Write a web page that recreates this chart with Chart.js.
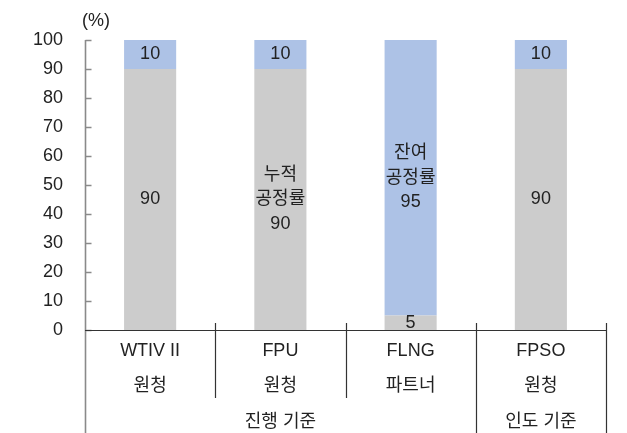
<!DOCTYPE html>
<html>
<head>
<meta charset="utf-8">
<script src="https://cdn.jsdelivr.net/npm/chart.js@4.4.1/dist/chart.umd.min.js"></script>
<style>
  html, body { margin: 0; padding: 0; background: #fff; }
</style>
</head>
<body>
<canvas id="chart" width="627" height="433"></canvas>
<script>
// data
const categories = ['WTIV II', 'FPU', 'FLNG', 'FPSO'];
const roles = ['원청', '원청', '파트너', '원청'];
const groupLabels = ['진행 기준', '인도 기준'];
const groupStarts = [0, 3];
const doneValues = [90, 90, 5, 90];
const remainValues = [10, 10, 95, 10];
const doneCaptions = ['', '누적 공정률', '', ''];
const remainCaptions = ['', '', '잔여 공정률', ''];
const yTicks = [0, 10, 20, 30, 40, 50, 60, 70, 80, 90, 100];

const FONT = '18px "Liberation Sans", "Noto Sans CJK KR", sans-serif';
const TEXT = '#222222';
const AXIS_GRAY = '#8a8a8a';
const LINE_DARK = '#333333';

const overlay = {
  id: 'overlay',
  afterDraw(chart) {
    const { ctx, chartArea: ca, scales: { x, y } } = chart;
    const H = chart.height;
    const half = (x.getPixelForValue(1) - x.getPixelForValue(0)) / 2;
    ctx.save();
    ctx.font = FONT;
    ctx.fillStyle = TEXT;
    ctx.textAlign = 'center';
    ctx.textBaseline = 'middle';

    // bar labels
    const captions = [doneCaptions, remainCaptions];
    chart.data.datasets.forEach((ds, di) => {
      chart.getDatasetMeta(di).data.forEach((el, i) => {
        const lines = captions[di][i] ? captions[di][i].split(' ') : [];
        lines.push(String(ds.data[i]));
        const cy = (el.y + el.base) / 2;
        lines.forEach((t, k) => {
          ctx.fillText(t, el.x, cy + (k - (lines.length - 1) / 2) * 24.5);
        });
      });
    });

    // unit
    ctx.fillText('(%)', ca.left + 11, 21);

    // y axis line + inward ticks
    const ax = Math.round(ca.left) + 0.5;
    ctx.strokeStyle = AXIS_GRAY;
    ctx.lineWidth = 1.6;
    ctx.beginPath();
    ctx.moveTo(ax, ca.top);
    ctx.lineTo(ax, H);
    yTicks.forEach(v => {
      const py = Math.round(y.getPixelForValue(v)) + 0.5;
      ctx.moveTo(ax, py);
      ctx.lineTo(ax + 6, py);
    });
    ctx.stroke();

    // x axis line
    const by = Math.round(ca.bottom) + 0.5;
    ctx.strokeStyle = LINE_DARK;
    ctx.lineWidth = 1.2;
    ctx.beginPath();
    ctx.moveTo(ca.left, by);
    ctx.lineTo(ca.right, by);
    // separators
    for (let i = 1; i <= categories.length; i++) {
      const px = Math.round(x.getPixelForValue(i - 1) + half) + 0.5;
      const full = i === categories.length || groupStarts.includes(i);
      ctx.moveTo(px, ca.bottom - 7);
      ctx.lineTo(px, full ? H : ca.bottom + 68);
    }
    ctx.stroke();

    // category labels
    categories.forEach((c, i) => {
      const px = x.getPixelForValue(i);
      ctx.fillText(c, px, ca.bottom + 21);
      ctx.fillText(roles[i], px, ca.bottom + 56);
    });
    // group labels
    groupLabels.forEach((g, gi) => {
      const from = groupStarts[gi];
      const to = gi + 1 < groupStarts.length ? groupStarts[gi + 1] - 1 : categories.length - 1;
      const cx = (x.getPixelForValue(from) + x.getPixelForValue(to)) / 2;
      ctx.fillText(g, cx, ca.bottom + 92);
    });
    ctx.restore();
  }
};

new Chart(document.getElementById('chart'), {
  type: 'bar',
  data: {
    labels: categories,
    datasets: [
      { label: '누적 공정률', data: doneValues, backgroundColor: '#cccccc', borderWidth: 0 },
      { label: '잔여 공정률', data: remainValues, backgroundColor: '#adc2e6', borderWidth: 0 }
    ]
  },
  options: {
    responsive: false,
    devicePixelRatio: 1,
    animation: false,
    layout: { padding: { top: 40, right: 21, bottom: 0, left: 0 } },
    plugins: { legend: { display: false }, tooltip: { enabled: false } },
    datasets: { bar: { categoryPercentage: 1, barPercentage: 0.4 } },
    scales: {
      x: {
        stacked: true,
        ticks: { display: false },
        grid: { display: false, drawTicks: false },
        border: { display: false },
        afterFit: s => { s.height = 103; }
      },
      y: {
        stacked: true,
        min: 0, max: 100,
        afterBuildTicks: s => { s.ticks = yTicks.map(v => ({ value: v })); },
        ticks: { padding: 22, font: { family: '"Liberation Sans", sans-serif', size: 18 }, color: TEXT },
        grid: { display: false, drawTicks: false },
        border: { display: false },
        afterFit: s => { s.width = 85; }
      }
    }
  },
  plugins: [overlay]
});
</script>
</body>
</html>
